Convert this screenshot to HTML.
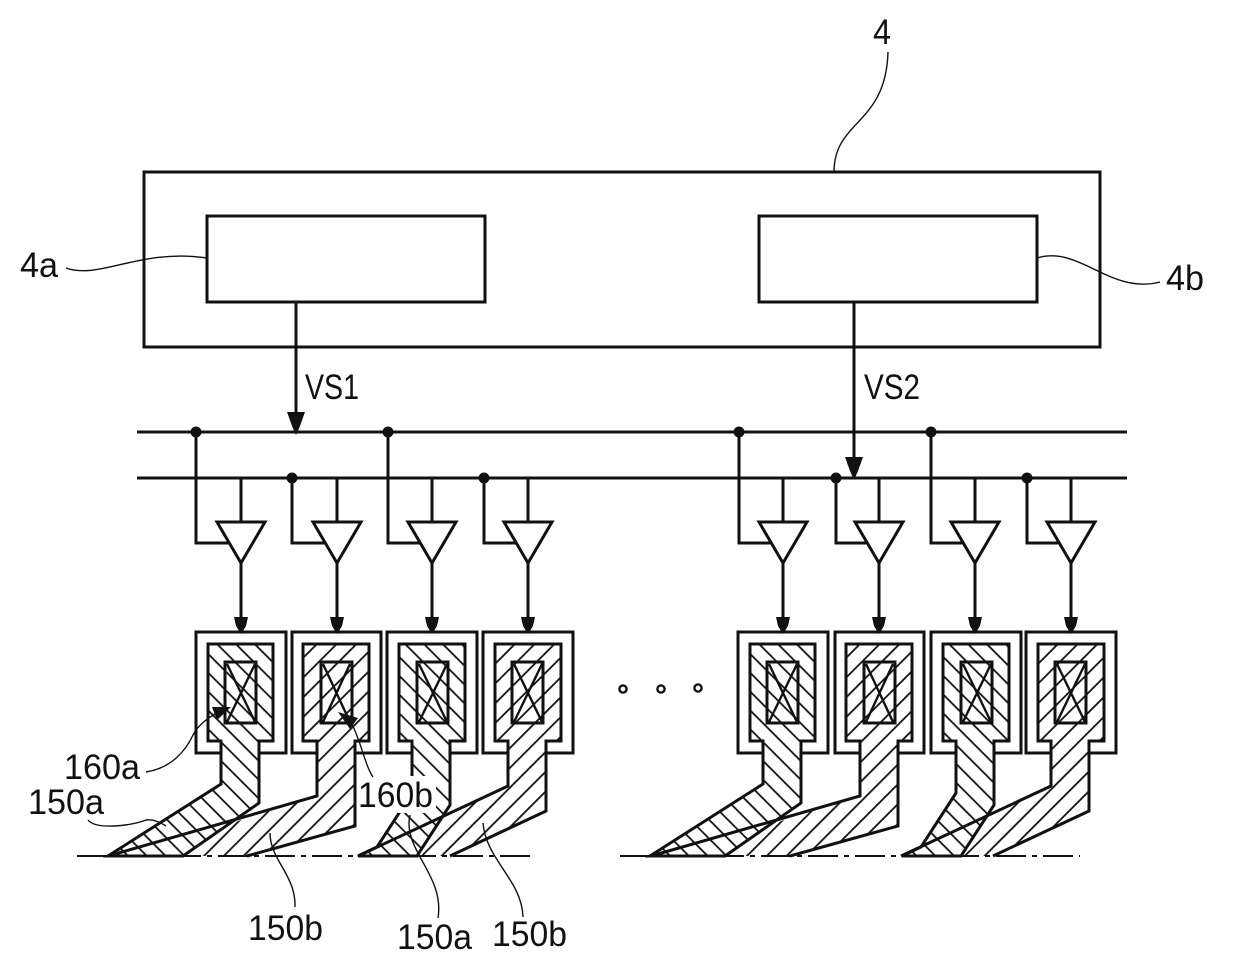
<!DOCTYPE html>
<html>
<head>
<meta charset="utf-8">
<style>
html,body{margin:0;padding:0;background:#fff}
svg{display:block}
text{font-family:"Liberation Sans",sans-serif;font-size:35px;fill:#111}
.o{fill:none;stroke:#111;stroke-width:3;stroke-linejoin:miter}
.t{fill:none;stroke:#111;stroke-width:1.4}
.w{fill:none;stroke:#111;stroke-width:2.4}
</style>
</head>
<body>
<svg width="1240" height="967" viewBox="0 0 1240 967" xmlns="http://www.w3.org/2000/svg">
<defs>
<pattern id="hb" width="13.3" height="13.3" patternUnits="userSpaceOnUse" patternTransform="rotate(-45) translate(-2.65 0)">
<line x1="6.65" y1="0" x2="6.65" y2="13.3" stroke="#111" stroke-width="1.8"/>
</pattern>
<pattern id="hf" width="14" height="14" patternUnits="userSpaceOnUse" patternTransform="rotate(45) translate(0.5 0)">
<line x1="7" y1="0" x2="7" y2="14" stroke="#111" stroke-width="1.8"/>
</pattern>
<g id="c1">
<polygon points="208,644 273,644 273,741 259,741 259,803 183,856 108,856 221,784 221,741 208,741" class="o" style="fill:url(#hb)"/>
<path class="o" d="M221 753H196V632H286V753H259"/>
<rect class="o" x="225" y="662" width="31" height="61"/>
<path class="w" d="M227 664L255 722M255 664L227 722"/>
</g>
<g id="c2">
<polygon points="317,796 238,821 183,856 247,856 355,826 355,741 369,741 369,644 303,644 303,741 317,741" style="fill:url(#hf)"/>
<path class="o" d="M108 856L317 796V741H303V644H369V741H355V826L247 856"/>
<path class="o" d="M317 753H292V632H381V753H355"/>
<rect class="o" x="321" y="662" width="31" height="61"/>
<path class="w" d="M323 664L350 722M350 664L323 722"/>
</g>
<g id="c3">
<polygon points="399,644 465,644 465,741 450,741 450,805 417,856 358,856 377,847 412,793 412,741 399,741" class="o" style="fill:url(#hb)"/>
<path class="o" d="M412 753H387V632H477V753H450"/>
<rect class="o" x="417" y="662" width="31" height="61"/>
<path class="w" d="M419 664L447 722M447 664L419 722"/>
</g>
<g id="c4">
<polygon points="508,786 441,818 417,856 450,856 546,811 546,741 561,741 561,644 495,644 495,741 508,741" style="fill:url(#hf)"/>
<path class="o" d="M358 856L508 786V741H495V644H561V741H546V811L450 856"/>
<path class="o" d="M508 753H483V632H573V753H546"/>
<rect class="o" x="512" y="662" width="31" height="61"/>
<path class="w" d="M514 664L542 722M542 664L514 722"/>
</g>
<g id="b">
<path class="o" d="M241 478V522"/>
<polygon class="o" points="217,522 265,522 241,563"/>
<path class="o" d="M241 563V622"/>
<polygon points="234,617 248,617 246,626 241,634 236,626" fill="#111"/>
</g>
</defs>

<rect width="1240" height="967" fill="#fff"/>

<!-- top blocks -->
<rect class="o" x="144" y="172" width="956" height="175"/>
<rect class="o" x="207" y="216" width="278" height="86"/>
<rect class="o" x="759" y="216" width="278" height="86"/>
<path class="o" d="M296 302V416"/>
<polygon points="287,412 305,412 300,426 296,435 292,426" fill="#111"/>
<path class="o" d="M854 302V462"/>
<polygon points="845,457 863,457 858,471 854,480 850,471" fill="#111"/>

<!-- buses -->
<path class="o" d="M137 432H1127M137 478H1127"/>

<!-- buffers -->
<use href="#b"/>
<use href="#b" transform="translate(96 0)"/>
<use href="#b" transform="translate(191 0)"/>
<use href="#b" transform="translate(287 0)"/>
<use href="#b" transform="translate(542 0)"/>
<use href="#b" transform="translate(638 0)"/>
<use href="#b" transform="translate(734 0)"/>
<use href="#b" transform="translate(830 0)"/>

<!-- input wires and junction dots -->
<path class="o" d="M196 432V543H229M388 432V543H420M739 432V543H771M931 432V543H963"/>
<path class="o" d="M292 478V543H325M484 478V543H516M836 478V543H868M1027 478V543H1059"/>
<g fill="#111">
<circle cx="196" cy="432" r="5.5"/><circle cx="388" cy="432" r="5.5"/><circle cx="739" cy="432" r="5.5"/><circle cx="931" cy="432" r="5.5"/>
<circle cx="292" cy="478" r="5.5"/><circle cx="484" cy="478" r="5.5"/><circle cx="836" cy="478" r="5.5"/><circle cx="1027" cy="478" r="5.5"/>
</g>

<!-- cells -->
<use href="#c1"/>
<use href="#c2"/>
<use href="#c3"/>
<use href="#c4"/>
<use href="#c1" transform="translate(542 0)"/>
<use href="#c2" transform="translate(543 0)"/>
<use href="#c3" transform="translate(544 0)"/>
<use href="#c4" transform="translate(543 0)"/>

<!-- center line -->
<path d="M77 856H535M620 856H1080" stroke="#111" stroke-width="2" stroke-dasharray="30 6 5 6" fill="none"/>

<!-- ellipsis -->
<circle cx="623" cy="689" r="3.6" fill="none" stroke="#111" stroke-width="2.4"/>
<circle cx="661" cy="689" r="3.6" fill="none" stroke="#111" stroke-width="2.4"/>
<circle cx="698" cy="688" r="3.6" fill="none" stroke="#111" stroke-width="2.4"/>

<!-- white behind 160b -->
<rect x="357" y="776" width="79" height="37" fill="#fff"/>

<!-- leaders -->
<path class="t" d="M834 172C834 120 886 125 888 52"/>
<path class="t" d="M66 268C100 280 140 248 207 258"/>
<path class="t" d="M1037 258C1080 245 1110 295 1160 282"/>
<path class="t" d="M146 772C172 768 186 750 193 735C198 725 208 718 218 712"/>
<polygon points="212,707 231,707 217,720" fill="#111"/>
<path class="t" d="M373 777C365 765 362 745 352 724"/>
<polygon points="338,712 358,718 350,729" fill="#111"/>
<path class="t" d="M88 820C96 830 130 826 146 820C153 819 160 822 166 826"/>
<path class="t" d="M270 833C270 860 296 875 295 907"/>
<path class="t" d="M410 815C402 850 445 875 438 918"/>
<path class="t" d="M483 823C486 860 522 880 523 917"/>

<!-- labels -->
<text x="873" y="44" textLength="18" lengthAdjust="spacingAndGlyphs">4</text>
<text x="20" y="277" textLength="38" lengthAdjust="spacingAndGlyphs">4a</text>
<text x="1166" y="290" textLength="38" lengthAdjust="spacingAndGlyphs">4b</text>
<text x="305" y="399" textLength="54" lengthAdjust="spacingAndGlyphs">VS1</text>
<text x="864" y="399" textLength="56" lengthAdjust="spacingAndGlyphs">VS2</text>
<text x="64" y="779" textLength="76" lengthAdjust="spacingAndGlyphs">160a</text>
<text x="28" y="814" textLength="76" lengthAdjust="spacingAndGlyphs">150a</text>
<text x="358" y="807" textLength="75" lengthAdjust="spacingAndGlyphs">160b</text>
<text x="248" y="940" textLength="75" lengthAdjust="spacingAndGlyphs">150b</text>
<text x="397" y="949" textLength="75" lengthAdjust="spacingAndGlyphs">150a</text>
<text x="492" y="946" textLength="75" lengthAdjust="spacingAndGlyphs">150b</text>
</svg>
</body>
</html>
